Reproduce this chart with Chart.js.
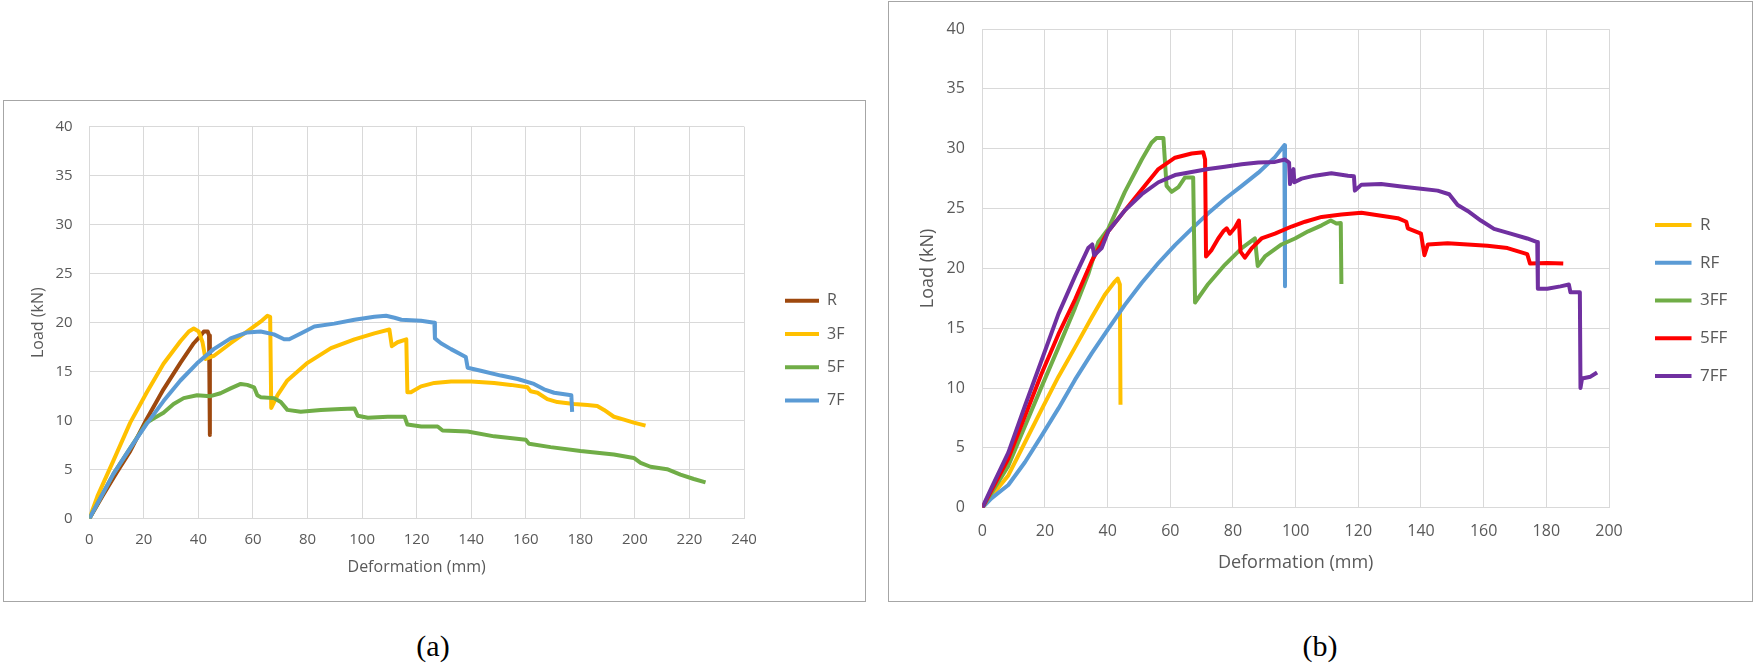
<!DOCTYPE html>
<html>
<head>
<meta charset="utf-8">
<script src="https://cdn.jsdelivr.net/npm/chart.js@4.4.1/dist/chart.umd.min.js"></script>
<style>
  html, body { margin:0; padding:0; background:#ffffff; }
  body { width:1754px; height:664px; position:relative; overflow:hidden; }
  .panel { position:absolute; border:1px solid #a6a6a6; background:#fff; }
  .panel canvas { position:absolute; left:0; top:0; }
  .cap { position:absolute; font-family:'Liberation Serif','Times New Roman',serif; font-size:30px; color:#000; transform:translate(-50%,-50%); white-space:nowrap; }
</style>
</head>
<body>
<div class="panel" style="left:3px; top:100px; width:861px; height:500px;"><canvas id="ca" width="861" height="500"></canvas></div>
<div class="panel" style="left:888px; top:1px; width:863px; height:599px;"><canvas id="cb" width="863" height="599"></canvas></div>
<div class="cap" style="left:433px; top:646px;">(a)</div>
<div class="cap" style="left:1320px; top:646px;">(b)</div>
<script>
// ---------- Data: panel (a) ----------
const seriesA = ['R', '3F', '5F', '7F'];
const colorsA = ['#9E480E', '#FFC000', '#70AD47', '#5B9BD5'];
const xTicksA = [0, 240, 20];   // min, max, step (mm)
const yTicks = [0, 40, 5];      // min, max, step (kN)

const aR = [[0,0],[5,2.4],[10,4.7],[15,6.9],[21.1,10.2],[27.2,13.2],[33.4,15.9],[38.3,17.9],[40.6,18.6],[42.0,19.1],[43.4,19.1],[43.9,18.7],[44.2,8.55]];
const a3F = [[0,0],[3,2.3],[8.8,5.9],[15,9.8],[21.1,12.9],[27.2,15.8],[33.4,18.1],[36.5,19.1],[38.3,19.4],[40.1,19.1],[41.5,18.0],[42.6,16.3],[45.6,16.6],[51.8,17.9],[57.9,19.1],[62.8,20.1],[65.3,20.7],[66.3,20.6],[66.7,11.3],[69,12.6],[72.6,14.1],[80,15.9],[88.6,17.4],[97.2,18.3],[104.5,18.9],[110,19.3],[110.9,17.6],[113,18.0],[116.2,18.3],[116.6,12.9],[117.9,12.9],[121.6,13.5],[126.5,13.85],[132.6,14.0],[140,14.0],[148.4,13.85],[154.5,13.65],[160.6,13.4],[161.8,13.0],[164.3,12.85],[167.9,12.2],[171.6,11.9],[177.7,11.7],[182.6,11.6],[186.2,11.5],[188.7,11.1],[192.3,10.4],[196,10.1],[199.6,9.8],[203.9,9.5]];
const a5F = [[0,0],[8.8,4.55],[15,7.2],[21.1,9.8],[24,10.3],[27.2,10.8],[30.9,11.7],[34.6,12.3],[39.5,12.6],[44.4,12.5],[48.1,12.8],[51.8,13.3],[55.5,13.75],[57.9,13.65],[60.4,13.4],[61.6,12.6],[62.8,12.4],[67.7,12.3],[70.2,11.9],[72.6,11.1],[77.5,10.9],[84.9,11.1],[92.3,11.2],[97.2,11.25],[98.4,10.5],[102.1,10.3],[109.4,10.4],[115.6,10.4],[116.6,9.6],[121.7,9.4],[127.7,9.4],[129.5,9.0],[138.7,8.9],[148.4,8.4],[160,8.05],[161.2,7.65],[169.1,7.3],[180.1,6.9],[192.3,6.55],[199.6,6.2],[202.1,5.7],[205.7,5.3],[211.8,5.05],[216.7,4.5],[221.6,4.05],[225.9,3.7]];
const a7F = [[0,0],[8.8,4.55],[15,7.2],[21.1,9.7],[27.2,12.0],[33.4,14.1],[39.5,15.85],[45.6,17.3],[51.8,18.4],[57.9,19.0],[62.8,19.1],[67.7,18.8],[71.4,18.3],[73.3,18.3],[77.5,18.9],[82.5,19.6],[89.8,19.9],[97.2,20.3],[104.5,20.6],[108.8,20.7],[111.9,20.5],[114.4,20.3],[121.6,20.2],[126.5,20.0],[126.7,18.4],[128.9,17.9],[132.6,17.3],[138,16.5],[138.7,15.4],[143.5,15.1],[150.9,14.6],[157,14.25],[163,13.75],[166.7,13.2],[170.4,12.85],[176.7,12.6],[177,10.9]];
const valuesA = [aR, a3F, a5F, a7F];

// ---------- Data: panel (b) ----------
const seriesB = ['R', 'RF', '3FF', '5FF', '7FF'];
const colorsB = ['#FFC000', '#5B9BD5', '#70AD47', '#FF0000', '#7030A0'];
const xTicksB = [0, 200, 20];

const bR = [[0,0],[3,1.0],[8.3,2.7],[13.6,5.45],[18.9,8.2],[24.3,10.95],[29.6,13.4],[34.9,15.9],[39.1,17.8],[42.3,18.9],[43.2,19.15],[43.9,18.65],[44.1,8.6]];
const bRF = [[0,0],[3,0.8],[8.3,1.9],[13.6,3.8],[18.9,6.0],[24.3,8.3],[29.6,10.7],[34.9,12.9],[40.2,14.95],[45.5,16.95],[50.9,18.8],[56.2,20.45],[61.5,21.95],[66.8,23.3],[72.1,24.6],[77.4,25.8],[82.8,26.9],[88.1,28.0],[93.4,29.3],[96.4,30.3],[96.6,18.5]];
const b3FF = [[0,0],[8.3,3.5],[13.6,6.8],[18.9,10.1],[24.3,13.4],[29.6,16.7],[33.8,19.5],[37,22.2],[38.2,22.6],[40.2,23.3],[45.5,26.4],[50.9,29.1],[54,30.5],[55.6,30.9],[57.8,30.9],[58.8,26.9],[60.4,26.4],[62.6,26.8],[64.7,27.6],[67.3,27.6],[67.9,17.15],[72.1,18.7],[77.4,20.3],[82.8,21.7],[87,22.5],[87.9,20.2],[90.2,21.0],[95.5,22.0],[99.8,22.5],[104,23.1],[108.3,23.6],[111.2,24.0],[113,23.75],[114.4,23.8],[114.6,18.7]];
const b5FF = [[0,0],[8.3,4.1],[13.6,7.65],[18.9,11.2],[24.3,14.5],[29.6,17.4],[34.9,20.6],[40.2,23.1],[45.5,24.85],[50.9,26.6],[56.2,28.3],[61.5,29.25],[66.8,29.6],[70.5,29.7],[71.1,29.1],[71.4,21.0],[73.2,21.55],[75.3,22.5],[76.9,23.1],[78,23.35],[79,22.9],[80.6,23.4],[81.9,24.0],[82.4,21.4],[83.8,20.9],[86,21.7],[89.1,22.5],[93.4,22.9],[98.7,23.5],[103,23.9],[108.3,24.3],[114.6,24.5],[121,24.65],[127.3,24.4],[132.6,24.2],[135.3,23.9],[135.8,23.35],[140,22.9],[141.1,21.1],[142.2,22.0],[148.5,22.1],[154.9,22.0],[161.2,21.9],[167.6,21.7],[173.9,21.2],[174.8,20.4],[180.3,20.45],[185.4,20.4]];
const b7FF = [[0,0],[3,1.7],[8.3,4.6],[13.6,8.5],[18.9,12.3],[24.3,16.2],[29.6,19.35],[33.8,21.7],[35.1,22.0],[35.7,21.1],[38.1,21.7],[40.2,23.1],[45.5,24.85],[50.9,26.2],[56.2,27.2],[61.5,27.8],[66.8,28.05],[72.1,28.3],[77.4,28.5],[82.8,28.7],[88.1,28.85],[93.4,28.9],[96.6,29.1],[97.9,28.85],[98.2,27.05],[99.3,28.3],[99.6,27.2],[101.9,27.5],[106.1,27.75],[111.4,27.95],[116.7,27.75],[118.6,27.7],[118.9,26.5],[121,27.0],[127.3,27.05],[133.7,26.85],[140,26.65],[145.3,26.5],[149,26.2],[151.7,25.3],[154.9,24.8],[159.1,24.0],[163.3,23.3],[168.6,22.9],[173.9,22.5],[177.1,22.2],[177.3,18.3],[180.3,18.3],[184.5,18.5],[187.2,18.65],[187.7,18.0],[190.7,18.0],[190.9,10.0],[191.4,10.8],[194.1,10.95],[196.2,11.3]];
const valuesB = [bR, bRF, b3FF, b5FF, b7FF];

const xTitle = 'Deformation (mm)';
const yTitle = 'Load (kN)';

// ---------- Chart setup ----------
Chart.defaults.font.family = "'Open Sans', 'Noto Sans', sans-serif";
Chart.defaults.color = '#595959';

const legendPlace = {
  id: 'legendPlace',
  afterLayout(chart, args, opts) {
    const lg = chart.legend;
    if (!lg) return;
    const dy = opts.top - lg.top;
    lg.left = opts.left;
    lg.right = chart.width;
    lg.top += dy; lg.bottom += dy;
  }
};

function makeChart(id, names, colors, values, xt, g) {
  const n = names.length;
  const datasets = names.map((name, i) => ({
    label: name,
    data: values[i].map(p => ({x: p[0], y: p[1]})),
    borderColor: colors[i],
    backgroundColor: colors[i],
    borderWidth: g.lw,
    showLine: true,
    pointRadius: 0,
    pointHoverRadius: 0,
    tension: 0,
    borderJoinStyle: 'round',
    borderCapStyle: 'butt',
    order: n - 1 - i
  }));
  return new Chart(document.getElementById(id), {
    type: 'scatter',
    data: { datasets },
    plugins: [legendPlace],
    options: {
      responsive: false,
      animation: false,
      devicePixelRatio: 1,
      layout: { padding: { top: g.padTop, right: g.padRight, bottom: 0, left: 0 } },
      plugins: {
        tooltip: { enabled: false },
        legend: {
          display: true,
          position: 'right',
          align: 'start',
          maxWidth: 60,
          labels: {
            usePointStyle: true,
            pointStyle: 'line',
            pointStyleWidth: g.boxW,
            padding: g.legPad,
            color: '#595959',
            font: { size: g.legFont },
            sort: (a, b) => a.datasetIndex - b.datasetIndex
          }
        },
        legendPlace: { left: g.legLeft, top: g.legTop }
      },
      scales: {
        x: {
          type: 'linear',
          min: xt[0], max: xt[1],
          afterFit: s => { s.height = g.xH; },
          ticks: { stepSize: xt[2], autoSkip: false, maxRotation: 0, padding: g.xTickPad, font: { size: g.tickFont }, color: '#595959' },
          grid: { color: '#d9d9d9', lineWidth: 1, drawTicks: false },
          border: { color: '#d9d9d9' },
          title: { display: true, text: xTitle, color: '#595959', font: { size: g.titleFont }, padding: { top: 0, bottom: g.xTitlePad } }
        },
        y: {
          type: 'linear',
          min: yTicks[0], max: yTicks[1],
          afterFit: s => { s.width = g.yW; },
          ticks: { stepSize: yTicks[2], padding: g.yTickPad, font: { size: g.tickFont }, color: '#595959' },
          grid: { color: '#d9d9d9', lineWidth: 1, drawTicks: false },
          border: { color: '#d9d9d9' },
          title: { display: true, text: yTitle, color: '#595959', font: { size: g.titleFont }, padding: { top: g.yTitlePad, bottom: 0 } }
        }
      }
    }
  });
}

makeChart('ca', seriesA, colorsA, valuesA, xTicksA, {
  lw: 4, padTop: 19, padRight: 61, xH: 82.3, yW: 85.3,
  xTickPad: 12, yTickPad: 16.6, tickFont: 15, titleFont: 16,
  xTitlePad: 24.1, yTitlePad: 25.2,
  legFont: 16, legPad: 17.3, boxW: 34, legLeft: 763.7, legTop: 174.4
});

makeChart('cb', seriesB, colorsB, valuesB, xTicksB, {
  lw: 4, padTop: 21.3, padRight: 83, xH: 93.3, yW: 93.3,
  xTickPad: 14, yTickPad: 17.5, tickFont: 16, titleFont: 18,
  xTitlePad: 27.5, yTitlePad: 27.6,
  legFont: 17, legPad: 20.75, boxW: 36.5, legLeft: 745.25, legTop: 193.75
});
</script>
</body>
</html>
